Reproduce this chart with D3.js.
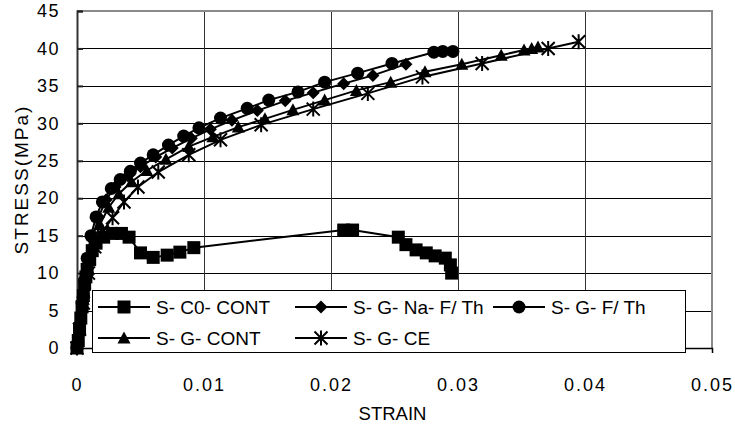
<!DOCTYPE html>
<html>
<head>
<meta charset="utf-8">
<script src="https://cdn.jsdelivr.net/npm/d3@7"></script>
<style>
  body { margin: 0; background: #fff; }
  text { font-family: "Liberation Sans", Arial, sans-serif; fill: #000; }
</style>
</head>
<body>
<div class="chart"></div>
<script>

// ---- data ----
var strainTicks = [0, 0.01, 0.02, 0.03, 0.04, 0.05];
var stressTicks = [0, 5, 10, 15, 20, 25, 30, 35, 40, 45];

var seriesNames = ["S- C0- CONT", "S- G- Na- F/ Th", "S- G- F/ Th", "S- G- CONT", "S- G- CE"];
var seriesMarkers = ["square", "diamond", "circle", "triangle", "star"];

var c0Cont = [[0,0],[0.0001,1],[0.0002,2.5],[0.0003,4],[0.0004,5.5],[0.0005,7],[0.0006,8.5],
  [0.0007,9.5],[0.0008,10.5],[0.001,11.8],[0.0012,13],[0.0015,14],[0.0021,14.8],[0.0028,15.3],
  [0.0035,15.3],[0.0041,14.8],[0.005,12.7],[0.006,12.1],[0.0071,12.4],[0.0081,12.8],[0.0092,13.4],
  [0.021,15.75],[0.0217,15.75],[0.0253,14.8],[0.0259,13.8],[0.0267,13.1],[0.0275,12.7],
  [0.0282,12.3],[0.029,12.0],[0.0294,11.1],[0.0295,10.0]];

var gNaFTh = [[0,0],[0.0002,3],[0.0005,7],[0.0008,11],[0.0012,14.5],[0.0017,17.5],[0.0023,19.8],
  [0.003,21.5],[0.004,23],[0.005,24.2],[0.0062,25.5],[0.0075,26.7],[0.009,28],[0.0105,29.2],
  [0.0122,30.4],[0.0142,31.7],[0.0164,33],[0.0186,34.1],[0.021,35.3],[0.0233,36.4],[0.0259,37.9]];

var gFTh = [[0,0],[0.0002,3],[0.0004,6],[0.0006,9],[0.0008,12],[0.0011,15],[0.0015,17.5],
  [0.002,19.5],[0.0027,21.3],[0.0034,22.5],[0.0042,23.6],[0.005,24.7],[0.006,25.8],[0.0072,27.1],
  [0.0084,28.3],[0.0096,29.4],[0.0113,30.7],[0.0134,32.0],[0.0151,33.1],[0.0174,34.2],
  [0.0195,35.5],[0.0221,36.7],[0.0248,38.0],[0.0281,39.5],[0.0288,39.6],[0.0296,39.6]];

var gCont = [[0,0],[0.0002,3],[0.0005,6.5],[0.0009,10.5],[0.0013,14],[0.0018,16.5],[0.0025,18.8],
  [0.0033,20.6],[0.0043,22.2],[0.0055,23.7],[0.007,25.2],[0.0088,26.9],[0.0107,28.2],
  [0.0127,29.5],[0.0148,30.6],[0.017,31.8],[0.0195,33.1],[0.022,34.4],[0.0247,35.5],
  [0.0274,36.9],[0.0303,37.9],[0.0334,39.1],[0.0352,39.8],[0.0358,40.0],[0.0363,40.2]];

var gCE = [[0,0],[0.0002,2.5],[0.0005,6],[0.0009,10],[0.0014,13.5],[0.002,15.5],[0.0028,17.4],
  [0.0037,19.5],[0.0048,21.5],[0.0064,23.5],[0.0088,25.8],[0.0113,27.8],[0.0145,29.8],
  [0.0186,31.9],[0.0229,34.0],[0.0272,36.2],[0.0319,38.0],[0.0371,40.0],[0.0395,40.9]];

var seriesData = [c0Cont, gNaFTh, gFTh, gCont, gCE];

(function() {

// ---- layout ----
var width = 735, height = 424;
var pLeft = 77, pRight = 712, pTop = 11, pBottom = 348;

var svg = d3.select(".chart")
            .append("svg")
            .attr("width", width)
            .attr("height", height);

var xScale = d3.scaleLinear().domain([0, 0.05]).range([pLeft, pRight]);
var yScale = d3.scaleLinear().domain([0, 45]).range([pBottom, pTop]);

// horizontal grid
svg.append("g")
   .selectAll("line")
   .data(stressTicks.slice(1, -1))
   .enter()
   .append("line")
   .attr("x1", pLeft).attr("x2", pRight)
   .attr("y1", function(d) { return Math.round(yScale(d)) + 0.5; })
   .attr("y2", function(d) { return Math.round(yScale(d)) + 0.5; })
   .attr("stroke", "#000")
   .attr("stroke-width", 1);

// vertical grid
svg.append("g")
   .selectAll("line")
   .data(strainTicks.slice(1, -1))
   .enter()
   .append("line")
   .attr("y1", pTop).attr("y2", pBottom)
   .attr("x1", function(d) { return Math.round(xScale(d)) + 0.5; })
   .attr("x2", function(d) { return Math.round(xScale(d)) + 0.5; })
   .attr("stroke", "#333")
   .attr("stroke-width", 1);

// plot frame: grey top and right
svg.append("path")
   .attr("d", "M" + pLeft + "," + pTop + "H" + pRight + "V" + pBottom)
   .attr("fill", "none")
   .attr("stroke", "#8a8a8a")
   .attr("stroke-width", 2);

// x axis
var xAxis = d3.axisBottom(xScale)
              .tickValues(strainTicks)
              .tickSize(5)
              .tickPadding(25)
              .tickFormat(function(d) { return d === 0 ? "0" : d3.format(".2f")(d); });

var gx = svg.append("g")
            .attr("transform", "translate(0," + pBottom + ")")
            .call(xAxis);
gx.select(".domain").attr("stroke", "#000").attr("stroke-width", 1.5);
gx.selectAll(".tick line").attr("stroke", "#000");
gx.selectAll("text")
  .attr("font-size", "18px")
  .attr("letter-spacing", "2px")
  .attr("font-family", "Liberation Sans, Arial, sans-serif");

// y axis
var yAxis = d3.axisLeft(yScale)
              .tickValues(stressTicks)
              .tickSize(-6)
              .tickPadding(17);

var gy = svg.append("g")
            .attr("transform", "translate(" + pLeft + ",0)")
            .call(yAxis);
gy.select(".domain").attr("stroke", "#333").attr("stroke-width", 2);
gy.selectAll(".tick line").attr("stroke", "#222").attr("stroke-width", 2);
gy.selectAll("text")
  .attr("font-size", "18px")
  .attr("letter-spacing", "1.5px")
  .attr("font-family", "Liberation Sans, Arial, sans-serif");

// axis titles
svg.append("text")
   .text("STRAIN")
   .attr("x", (pLeft + pRight) / 2 - 2)
   .attr("y", 420)
   .attr("text-anchor", "middle")
   .attr("font-size", "18.5px");

svg.append("text")
   .text("STRESS(MPa)")
   .attr("transform", "translate(28," + (pTop + pBottom) / 2 + ") rotate(-90)")
   .attr("text-anchor", "middle")
   .attr("letter-spacing", "2px")
   .attr("font-size", "19px");

// marker shapes
function markerPath(type) {
  if (type === "square") return "M-6.5,-6.5H6.5V6.5H-6.5Z";
  if (type === "diamond") return "M0,-6.5L6.5,0L0,6.5L-6.5,0Z";
  if (type === "triangle") return "M0,-6.5L6.5,5.5H-6.5Z";
  if (type === "star") return "M0,-7.5V7.5M-6.5,-6.5L6.5,6.5M6.5,-6.5L-6.5,6.5";
  return null;
}

function drawMarker(sel, type) {
  if (type === "circle") {
    sel.append("circle").attr("r", 6.5).attr("fill", "#000");
  } else if (type === "star") {
    sel.append("path").attr("d", markerPath(type))
       .attr("fill", "none").attr("stroke", "#000").attr("stroke-width", 2);
  } else {
    sel.append("path").attr("d", markerPath(type)).attr("fill", "#000");
  }
}

var line = d3.line()
             .x(function(d) { return xScale(d[0]); })
             .y(function(d) { return yScale(d[1]); });

seriesData.forEach(function(data, i) {
  var g = svg.append("g");
  g.append("path")
   .attr("d", line(data))
   .attr("fill", "none")
   .attr("stroke", "#000")
   .attr("stroke-width", 2);

  var pts = g.selectAll("g.pt")
             .data(data)
             .enter()
             .append("g")
             .attr("class", "pt")
             .attr("transform", function(d) {
               return "translate(" + xScale(d[0]) + "," + yScale(d[1]) + ")";
             });
  drawMarker(pts, seriesMarkers[i]);
});

// legend
var legend = svg.append("g");
legend.append("rect")
      .attr("x", 92.5).attr("y", 290.5)
      .attr("width", 593).attr("height", 62)
      .attr("fill", "#fff")
      .attr("stroke", "#000")
      .attr("stroke-width", 1);

var colX = [98, 295, 493];
var rowY = [307, 338];

seriesNames.forEach(function(name, i) {
  var x0 = colX[i % 3], y0 = rowY[Math.floor(i / 3)];
  var item = legend.append("g").attr("transform", "translate(" + x0 + "," + y0 + ")");
  item.append("line")
      .attr("x1", 0).attr("x2", 52)
      .attr("y1", 0).attr("y2", 0)
      .attr("stroke", "#000")
      .attr("stroke-width", 2);
  var m = item.append("g").attr("transform", "translate(26,0)");
  drawMarker(m, seriesMarkers[i]);
  item.append("text")
      .text(name)
      .attr("x", 58)
      .attr("dy", "0.36em")
      .attr("font-size", "19px");
});

}());

</script>
</body>
</html>
